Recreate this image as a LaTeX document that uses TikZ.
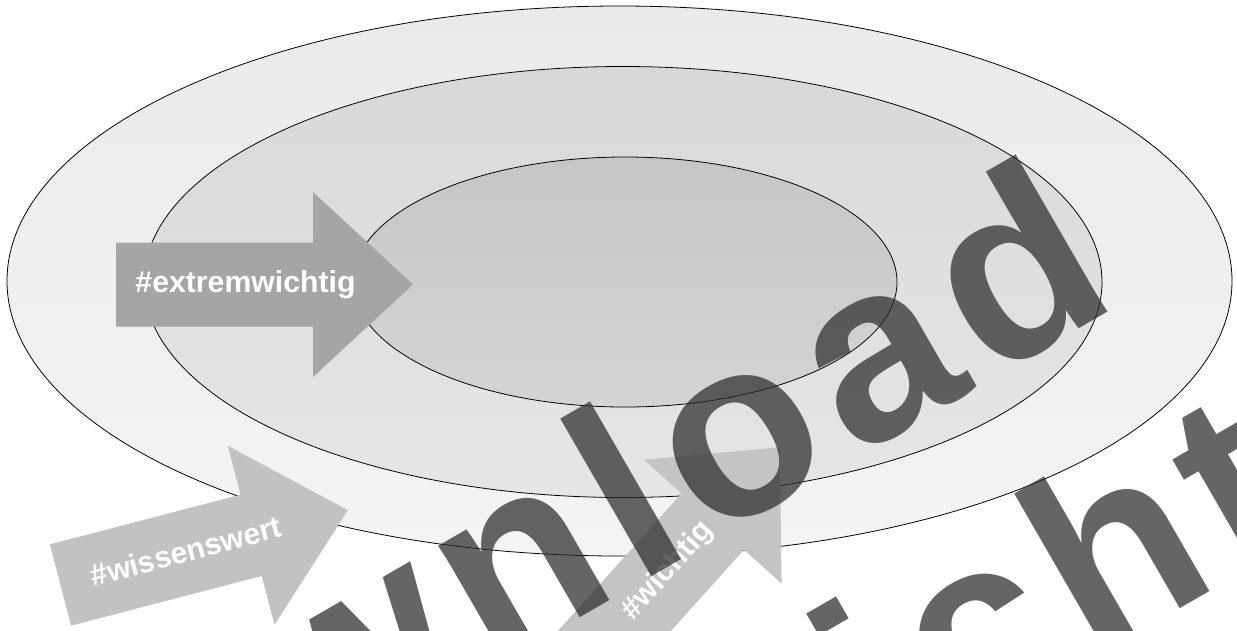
\documentclass[tikz,border=0pt]{standalone}
\usepackage{fontspec}
\setmainfont{Liberation Sans}
\newfontfamily\markfont[LetterSpace=6]{Liberation Sans}
\usetikzlibrary{positioning}

\definecolor{outertop}{HTML}{EAEAEA}
\definecolor{outerbot}{HTML}{F4F4F4}
\definecolor{midtop}{HTML}{D8D8D8}
\definecolor{midbot}{HTML}{E6E6E6}
\definecolor{innertop}{HTML}{C6C6C6}
\definecolor{innerbot}{HTML}{D4D4D4}
\definecolor{arrowdark}{HTML}{A5A5A5}
\definecolor{arrowmid}{HTML}{C2C2C2}
\definecolor{arrowlight}{HTML}{C4C4C4}
\definecolor{markgray}{HTML}{2D2D2D}

\tikzset{
  tagarrow/.pic={
    \path[pic actions] (0,-42) -- (197,-42) -- (197,-92.5) -- (297,0)
      -- (197,92.5) -- (197,42) -- (0,42) -- cycle;
  }
}

\begin{document}
\begin{tikzpicture}[x=0.02cm, y=-0.02cm,
    ring/.style={draw=black, line width=0.45pt},
    tagtext/.style={text=white, font=\bfseries\fontsize{17.2}{18}\selectfont, inner sep=0pt},
    watermark/.style={rotate=30, text=markgray, text opacity=0.73, inner sep=0pt,
      font=\markfont\bfseries\fontsize{143}{143}\selectfont}]
    \useasboundingbox (0,0) rectangle (1237,630);
    \clip (0,0) rectangle (1237,630);
    \fill[white] (0,0) rectangle (1237,630);

    % Rings
    \draw[ring, top color=outertop, bottom color=outerbot] (619.5,281) ellipse [x radius=612.5, y radius=275];
    \draw[ring, top color=midtop, bottom color=midbot] (623,282) ellipse [x radius=479, y radius=215.5];
    \draw[ring, top color=innertop, bottom color=innerbot] (625,282) ellipse [x radius=272, y radius=125];

    % Arrows
    \pic[fill=arrowdark] at (116,284.5) {tagarrow};
    \pic[fill=arrowmid, rotate=14.6] at (60.5,585) {tagarrow};
    \pic[fill=arrowlight, rotate=48] at (581,668) {tagarrow};

    % Labels
    \node[tagtext] (extrem) at (245.5,284.5) {\#extremwichtig};
    \node[tagtext, rotate=15] (wissen) at (186,551) {\#wissenswert};
    \node[tagtext, rotate=48] (wichtig) at (668,571) {\#wichtig};

    % Watermark
    \node[watermark, anchor=base east] (dl) at (1123,304) {Download};
    \node[watermark, anchor=base east] (ans) at (1309,534) {Ansicht};
\end{tikzpicture}
\end{document}
